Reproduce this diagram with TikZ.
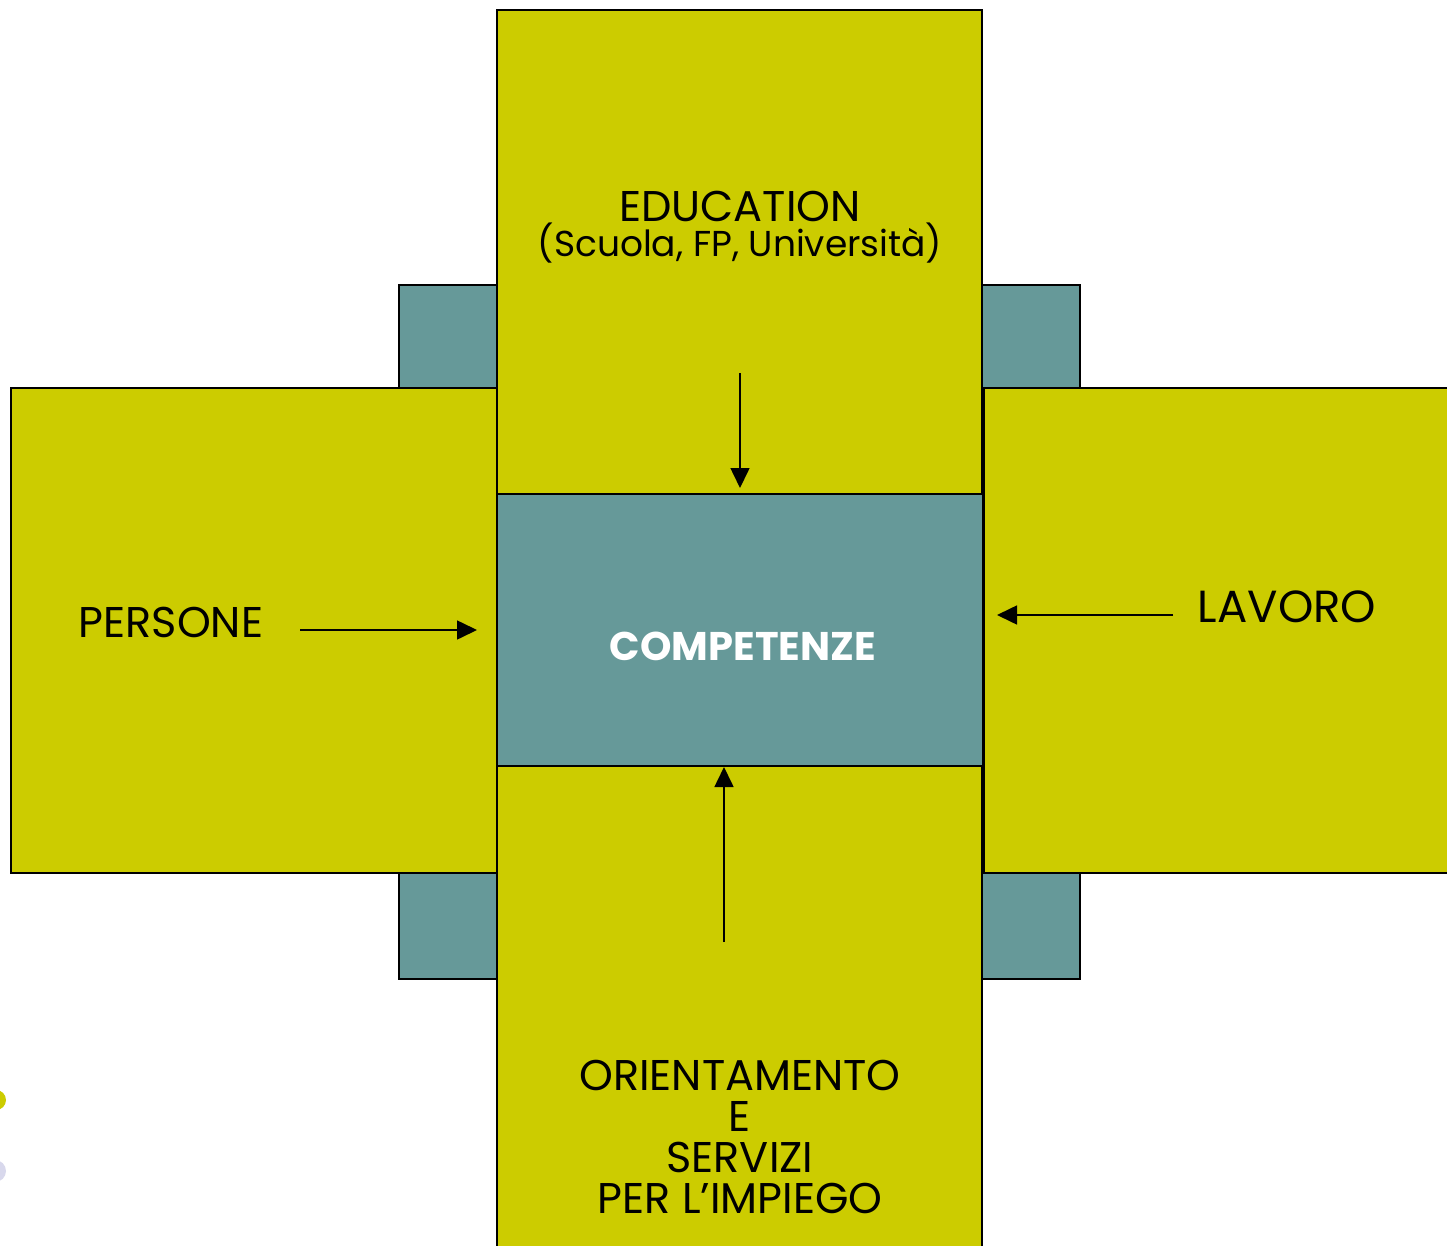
\documentclass[tikz,border=0pt]{standalone}
\usepackage{fontspec}
\setmainfont{Poppins}
\definecolor{olive}{HTML}{CCCC00}
\definecolor{tealbox}{HTML}{669999}
\definecolor{lav}{HTML}{D8D8EC}
\tikzset{
  box/.style={rectangle, draw=black, line width=2pt, inner sep=0pt, fill=olive},
  tbox/.style={rectangle, draw=black, line width=2pt, inner sep=0pt, fill=tealbox},
  lbl/.style={inner sep=0pt, align=center, font=\fontsize{43}{41}\selectfont},
  arr/.style={line width=1.6pt, -{Triangle[length=20pt,width=19pt]}}
}
\usetikzlibrary{arrows.meta}
\begin{document}
\begin{tikzpicture}[x=1pt,y=-1pt]
\clip (0,0) rectangle (1447,1246);
\fill[white] (0,0) rectangle (1447,1246);
\node[tbox, minimum width=681pt, minimum height=694pt] (back) at (739.5,632) {};
\node[box, minimum width=486pt, minimum height=485pt] (left) at (254,630.5) {};
\node[box, minimum width=485pt, minimum height=484pt] (top) at (739.5,252) {};
\node[box, minimum width=485pt, minimum height=489pt] (bottom) at (739.5,1010.5) {};
\node[box, minimum width=476pt, minimum height=485pt] (right) at (1222,630.5) {};
\node[tbox, minimum width=486pt, minimum height=272pt] (center) at (740,630) {};
\node[text=white, font=\bfseries\fontsize{40}{42}\selectfont, inner sep=0pt] (comp) at (743,646) {COMPETENZE};
\node[lbl] (edu) at (740,206) {EDUCATION};
\node[lbl, font=\fontsize{36}{38}\selectfont] (scu) at (740,243) {(Scuola, FP, Università)};
\node[lbl] (pers) at (171,622) {PERSONE};
\node[lbl, font=\fontsize{45}{45}\selectfont] (lav) at (1287,607) {LAVORO};
\node[lbl] (ori) at (740,1137) {ORIENTAMENTO\\E\\SERVIZI\\PER L’IMPIEGO};
\coordinate (a1s) at (740,373); \coordinate (a1e) at (740,488);
\coordinate (a2s) at (300,630); \coordinate (a2e) at (477,630);
\coordinate (a3s) at (1173,615); \coordinate (a3e) at (997,615);
\coordinate (a4s) at (724,942); \coordinate (a4e) at (724,767);
\draw[arr] (a1s) -- (a1e);
\draw[arr] (a2s) -- (a2e);
\draw[arr] (a3s) -- (a3e);
\draw[arr] (a4s) -- (a4e);
\fill[olive] (-4,1100) circle (10);
\fill[lav] (-5,1171) circle (11);
\end{tikzpicture}
\end{document}
